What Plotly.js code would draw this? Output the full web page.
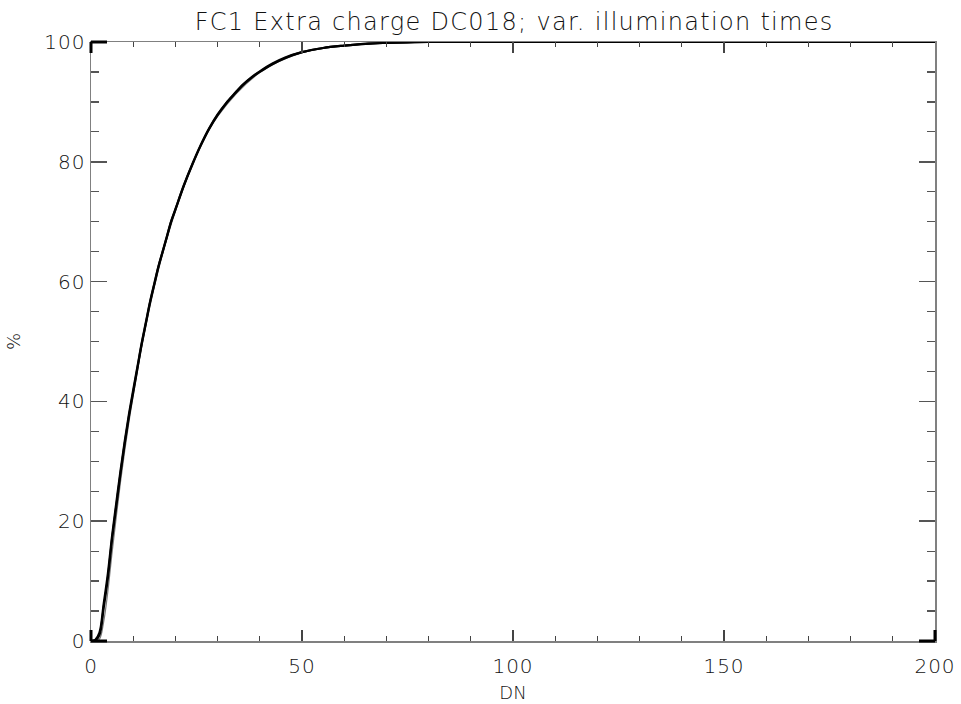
<!DOCTYPE html>
<html>
<head>
<meta charset="utf-8">
<script src="https://cdn.plot.ly/plotly-3.0.1.min.js"></script>
<style>
html,body{margin:0;padding:0;background:#fff;}
#chart{width:961px;height:704px;}
#chart .gtitle{letter-spacing:1.3px;}
#chart .xtick text, #chart .ytick text{letter-spacing:1px;}
</style>
</head>
<body>
<div id="chart"></div>
<script>
// Cumulative extra-charge curves (percent vs DN)
const dnA  = [0, 1, 2, 3, 4, 5, 6, 7, 8, 9, 10, 11, 12, 13, 14, 15, 16, 17, 18, 19, 20, 22, 24, 26, 28, 30, 32, 34, 36, 38, 40, 43, 46, 50, 55, 60, 65, 70, 75, 80, 90, 100, 150, 200];
const pctA = [0, 0.1, 1.0, 5.5, 10.5, 17, 22.5, 28, 33, 37.5, 41.5, 45.5, 49.5, 53, 56.5, 59.5, 62.5, 65, 67.5, 70, 72, 76, 79.5, 82.7, 85.5, 87.8, 89.7, 91.3, 92.8, 94, 95, 96.3, 97.3, 98.3, 99, 99.4, 99.7, 99.85, 99.95, 100, 100, 100, 100, 100];
const pctB = [0, 0.2, 1.4, 6.2, 11.3, 17.6, 23.1, 28.5, 33.4, 37.9, 41.9, 45.8, 49.7, 53.2, 56.7, 59.7, 62.6, 65.1, 67.6, 70.1, 72.1, 76.1, 79.6, 82.8, 85.6, 87.9, 89.8, 91.4, 92.9, 94.1, 95.1, 96.4, 97.4, 98.3, 99, 99.4, 99.7, 99.85, 99.95, 100, 100, 100, 100, 100];
const dnC  = [0, 1, 2, 3, 4, 5, 6, 7, 8, 9, 10, 12, 14, 16, 18, 20, 25, 30, 40, 50, 60, 80, 100, 150, 200];
const pctC = [0, 0, 0.3, 3.2, 8.3, 14.8, 20.8, 26.6, 31.8, 36.6, 40.9, 49, 56, 62, 67.2, 71.7, 81.2, 87.6, 94.9, 98.2, 99.4, 100, 100, 100, 100];

const xTickVals = [0, 50, 100, 150, 200];
const yTickVals = [0, 20, 40, 60, 80, 100];

const FONT = "DejaVu Sans, sans-serif";
const TXT = '#111';

const traces = [
  {x: dnC, y: pctC, mode: 'lines', line: {color: '#7a7a7a', width: 1.2, shape: 'spline'}, hoverinfo: 'skip'},
  {x: dnA, y: pctB, mode: 'lines', line: {color: '#000', width: 2.2, shape: 'spline'}, hoverinfo: 'skip'},
  {x: dnA, y: pctA, mode: 'lines', line: {color: '#000', width: 2.2, shape: 'spline'}, hoverinfo: 'skip'}
];

const cornerLine = {color: '#000', width: 3};
const shapes = [
  {type: 'line', xref: 'x domain', yref: 'paper', x0: 0, x1: 0, y0: 0, y1: 11/599, line: cornerLine},
  {type: 'line', xref: 'paper', yref: 'y domain', x0: 0, x1: 16/844, y0: 0, y1: 0, line: cornerLine},
  {type: 'line', xref: 'x domain', yref: 'paper', x0: 1, x1: 1, y0: 0, y1: 11/599, line: cornerLine},
  {type: 'line', xref: 'paper', yref: 'y domain', x0: 1 - 16/844, x1: 1, y0: 0, y1: 0, line: cornerLine},
  {type: 'line', xref: 'x domain', yref: 'paper', x0: 0, x1: 0, y0: 1 - 11/599, y1: 1, line: cornerLine},
  {type: 'line', xref: 'paper', yref: 'y domain', x0: 0, x1: 16/844, y0: 1, y1: 1, line: cornerLine}
];

const layout = {
  width: 961, height: 704,
  margin: {l: 91, r: 26, t: 42, b: 63},
  paper_bgcolor: '#fff', plot_bgcolor: '#fff',
  showlegend: false,
  font: {family: FONT, color: TXT, size: 20, weight: 200},
  title: {text: 'FC1 Extra charge DC018; var. illumination times', x: 0.535, xanchor: 'center', y: 0.97, yanchor: 'middle',
          font: {family: FONT, size: 24, color: TXT, weight: 200}},
  xaxis: {
    range: [0, 200], showgrid: false, zeroline: false,
    showline: true, linecolor: '#808080', linewidth: 1.5, mirror: 'ticks',
    tickmode: 'array', tickvals: xTickVals, ticktext: xTickVals.map(String),
    ticks: 'inside', ticklen: 11, tickwidth: 1.5, tickcolor: '#444',
    ticklabelstandoff: 6,
    minor: {dtick: 10, ticks: 'inside', ticklen: 5, tickwidth: 1.2, tickcolor: '#444', showgrid: false},
    tickfont: {family: FONT, size: 20, color: TXT, weight: 200},
    title: {text: 'DN', font: {family: FONT, size: 18, color: TXT, weight: 200}, standoff: 10}
  },
  yaxis: {
    range: [0, 100], showgrid: false, zeroline: false,
    showline: true, linecolor: '#808080', linewidth: 1.5, mirror: 'ticks',
    tickmode: 'array', tickvals: yTickVals, ticktext: yTickVals.map(String),
    ticks: 'inside', ticklen: 16, tickwidth: 1.5, tickcolor: '#555',
    minor: {dtick: 5, ticks: 'inside', ticklen: 8, tickwidth: 1.2, tickcolor: '#555', showgrid: false},
    tickfont: {family: FONT, size: 20, color: TXT, weight: 200},
    title: {text: '%', font: {family: FONT, size: 18, color: TXT, weight: 200}, standoff: 22}
  },
  shapes: shapes
};

Plotly.newPlot('chart', traces, layout, {displayModeBar: false, staticPlot: true});
</script>
</body>
</html>
